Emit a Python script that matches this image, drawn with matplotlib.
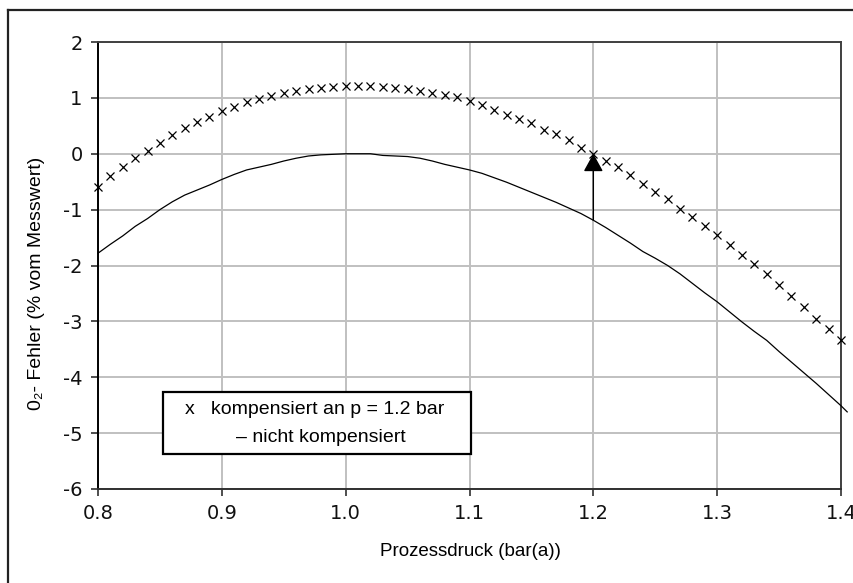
import matplotlib
matplotlib.use("Agg")
import matplotlib.pyplot as plt
from matplotlib.patches import Rectangle
from matplotlib.lines import Line2D

plt.rcParams["axes.unicode_minus"] = False

# Prozessdruck in bar(a), Schritt 0.01
druck = [round(0.80 + 0.01 * i, 2) for i in range(61)]

# Fehler kompensiert an p = 1.2 bar (x-Marker)
kompensiert = [-0.60, -0.40, -0.24, -0.08, 0.05, 0.20, 0.33, 0.46, 0.57, 0.65,
               0.76, 0.84, 0.92, 0.98, 1.03, 1.09, 1.13, 1.16, 1.18, 1.20,
               1.21, 1.21, 1.21, 1.19, 1.17, 1.15, 1.12, 1.08, 1.05, 1.01,
               0.94, 0.87, 0.78, 0.70, 0.62, 0.545, 0.43, 0.36, 0.25, 0.11,
               0.00, -0.135, -0.24, -0.375, -0.54, -0.68, -0.81, -0.98, -1.14, -1.30,
               -1.46, -1.63, -1.81, -1.98, -2.16, -2.35, -2.55, -2.74, -2.96, -3.14,
               -3.33]

# Fehler nicht kompensiert (Linie), letzter Punkt knapp hinter 1.4
druck_nk = druck + [1.405]
nicht_kompensiert = [-1.78, -1.62, -1.47, -1.30, -1.16, -1.00, -0.86, -0.74, -0.65, -0.56,
                     -0.46, -0.37, -0.29, -0.24, -0.19, -0.13, -0.08, -0.04, -0.02, -0.01,
                     0.00, 0.00, 0.00, -0.03, -0.04, -0.05, -0.08, -0.13, -0.19, -0.24,
                     -0.29, -0.35, -0.43, -0.51, -0.60, -0.69, -0.78, -0.87, -0.97, -1.07,
                     -1.19, -1.32, -1.46, -1.60, -1.75, -1.87, -2.00, -2.15, -2.32, -2.49,
                     -2.65, -2.83, -3.01, -3.18, -3.34, -3.54, -3.73, -3.92, -4.11, -4.31,
                     -4.51, -4.62]

x_ticks = [0.8, 0.9, 1.0, 1.1, 1.2, 1.3, 1.4]
x_labels = ["0.8", "0.9", "1.0", "1.1", "1.2", "1.3", "1.4"]
y_ticks = [-6, -5, -4, -3, -2, -1, 0, 1, 2]

p_komp = 1.2
fehler_unten = -1.19
fehler_oben = 0.0

W, H = 854, 583
schmal = ["Liberation Sans Narrow", "Liberation Sans", "DejaVu Sans"]

fig = plt.figure(figsize=(W / 100, H / 100), dpi=100)

# Rahmen um die ganze Grafik (rechts/unten abgeschnitten)
fig.add_artist(Line2D([8 / W, 8 / W], [0, 1 - 10 / H], color="#222222", lw=1.6,
                      transform=fig.transFigure))
fig.add_artist(Line2D([8 / W, 1], [1 - 10 / H, 1 - 10 / H], color="#222222", lw=1.6,
                      transform=fig.transFigure))

ax = fig.add_axes([98 / W, 94 / H, 743 / W, 447 / H])

ax.plot(druck_nk, nicht_kompensiert, color="black", lw=0.9, clip_on=False, zorder=3)
ax.plot(druck, kompensiert, linestyle="none", marker="x", color="black",
        markersize=6, markeredgewidth=0.9, clip_on=False, zorder=4)

ax.annotate("", xy=(p_komp, fehler_oben), xytext=(p_komp, fehler_unten),
            arrowprops=dict(arrowstyle="-|>,head_length=1.0,head_width=0.55",
                            mutation_scale=11, color="black", lw=1.0,
                            shrinkA=0, shrinkB=0),
            zorder=5)

ax.set_xlim(0.8, 1.4)
ax.set_ylim(-6, 2)
ax.set_xticks(x_ticks)
ax.set_xticklabels(x_labels)
ax.set_yticks(y_ticks)
ax.grid(True, color="#c0c0c0", lw=1.4)
ax.set_axisbelow(True)

for s in ["top", "right"]:
    ax.spines[s].set_color("#404040")
    ax.spines[s].set_linewidth(1.4)
ax.spines["left"].set_color("black")
ax.spines["left"].set_linewidth(1.4)
ax.spines["bottom"].set_color("#303030")
ax.spines["bottom"].set_linewidth(1.4)

ax.tick_params(direction="out", length=5, width=1.2, color="#303030",
               labelsize=14, pad=6)
for lab in ax.get_xticklabels() + ax.get_yticklabels():
    lab.set_family("DejaVu Sans")
    lab.set_color("#111111")

fig.text(470 / W, 1 - 551 / H, "Prozessdruck (bar(a))", family=schmal,
         fontsize=13.5, ha="center", va="center")
fig.text(37 / W, 1 - 283 / H, "0\u2082- Fehler (% vom Messwert)", family=schmal,
         fontsize=14, ha="center", va="center", rotation=90)

# Legendenkasten
fig.add_artist(Rectangle((163 / W, 1 - 454 / H), 308 / W, 62 / H, fill=True,
                         facecolor="white", edgecolor="black", lw=1.6,
                         transform=fig.transFigure, zorder=10))
fig.text(315 / W, 1 - 409 / H, "x   kompensiert an p = 1.2 bar", family=schmal,
         fontsize=14, ha="center", va="center", zorder=11)
fig.text(321 / W, 1 - 437 / H, "\u2013 nicht kompensiert", family=schmal,
         fontsize=14, ha="center", va="center", zorder=11)

fig.savefig("out.png", dpi=100)
